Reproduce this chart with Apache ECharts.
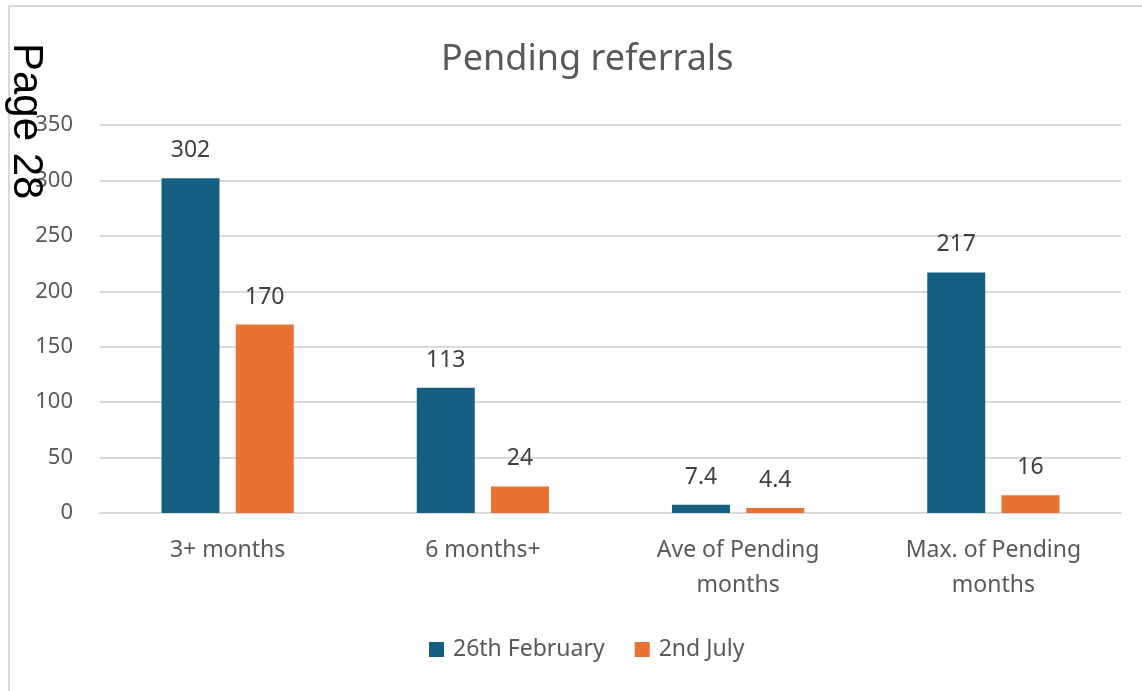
<!DOCTYPE html>
<html>
<head>
<meta charset="utf-8">
<script src="https://cdn.jsdelivr.net/npm/echarts@6/dist/echarts.min.js"></script>
<style>
    html, body { margin: 0; padding: 0; background: #fff; }
    #chart { width: 1142px; height: 691px; }
</style>
</head>
<body>
<div id="chart"></div>
<script>
// 資料
var categories = ['3+ months', '6 months+', 'Ave of Pending\nmonths', 'Max. of Pending\nmonths'];
var febValues = [302, 113, 7.4, 217];
var julValues = [170, 24, 4.4, 16];
var seriesNames = ['26th February', '2nd July'];

var myChart = echarts.init(document.getElementById('chart'));

var labelStyle = {
    show: true,
    position: 'top',
    distance: 16,
    color: '#404040',
    fontSize: 23,
    fontFamily: 'Noto Sans'
};

var option = {
    backgroundColor: '#fff',
    animation: false,
    title: {
        text: 'Pending referrals',
        left: 436,
        top: 37,
        textStyle: {
            color: '#595959',
            fontSize: 36,
            fontWeight: 'normal',
            fontFamily: 'Noto Sans'
        }
    },
    graphic: [
        {
            type: 'rect',
            shape: { x: 9, y: 6, width: 1200, height: 800 },
            style: { fill: 'none', stroke: '#d9d9d9', lineWidth: 2 },
            silent: true
        },
        {
            type: 'text',
            x: 5,
            y: 43,
            rotation: -Math.PI / 2,
            style: {
                text: 'Page 28',
                fill: '#000',
                fontSize: 42,
                fontFamily: 'Liberation Sans',
                textVerticalAlign: 'bottom'
            },
            z: 100
        }
    ],
    legend: {
        data: seriesNames,
        bottom: 25,
        left: 424,
        itemWidth: 15,
        itemHeight: 15,
        itemGap: 30,
        icon: 'rect',
        textStyle: {
            color: '#595959',
            fontSize: 23,
            fontFamily: 'Noto Sans',
            padding: [0, 0, 0, 4]
        }
    },
    grid: {
        left: 100,
        right: 21,
        top: 125,
        bottom: 178
    },
    xAxis: {
        type: 'category',
        data: categories,
        axisLine: { lineStyle: { color: '#d9d9d9', width: 2 } },
        axisTick: { show: false },
        axisLabel: {
            color: '#595959',
            fontSize: 23,
            lineHeight: 35,
            margin: 20,
            fontFamily: 'Noto Sans'
        }
    },
    yAxis: {
        type: 'value',
        min: 0,
        max: 350,
        interval: 50,
        axisLine: { show: false },
        axisTick: { show: false },
        splitLine: { lineStyle: { color: '#d9d9d9', width: 2 } },
        axisLabel: {
            color: '#595959',
            fontSize: 22,
            margin: 27,
            fontFamily: 'Noto Sans'
        }
    },
    series: [
        {
            name: seriesNames[0],
            type: 'bar',
            data: febValues,
            barWidth: 58,
            barGap: '28%',
            itemStyle: { color: '#156082' },
            label: labelStyle
        },
        {
            name: seriesNames[1],
            type: 'bar',
            data: julValues,
            barWidth: 58,
            barGap: '28%',
            itemStyle: { color: '#E97132' },
            label: labelStyle
        }
    ]
};

myChart.setOption(option);
</script>
</body>
</html>
